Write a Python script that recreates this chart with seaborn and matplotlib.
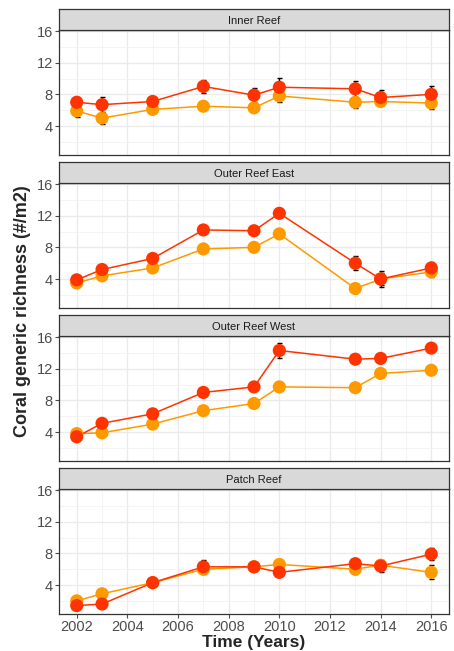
import numpy as np
import pandas as pd
import matplotlib
matplotlib.use("Agg")
import matplotlib.pyplot as plt
from matplotlib.ticker import MultipleLocator
import seaborn as sns

sns.set_theme(style="white")
plt.rcParams["font.family"] = ["Liberation Sans", "DejaVu Sans"]

years = [2002, 2003, 2005, 2007, 2009, 2010, 2013, 2014, 2016]
reefs = ["Inner Reef", "Outer Reef East", "Outer Reef West", "Patch Reef"]

# mean generic richness and standard error, two survey series per reef
inner_a = [7.0, 6.7, 7.1, 9.0, 7.9, 8.9, 8.7, 7.6, 8.0]
inner_a_se = [0.7, 1.0, 0.3, 0.8, 0.9, 1.2, 1.0, 1.0, 1.0]
inner_b = [5.9, 5.0, 6.1, 6.5, 6.3, 7.8, 7.0, 7.1, 6.9]
inner_b_se = [0.7, 0.8, 0.3, 0.5, 0.5, 0.8, 0.7, 0.4, 0.7]

east_a = [3.9, 5.2, 6.6, 10.2, 10.1, 12.3, 6.0, 4.0, 5.4]
east_a_se = [0.3, 0.3, 0.3, 0.3, 0.3, 0.3, 0.9, 1.0, 0.8]
east_b = [3.5, 4.4, 5.4, 7.8, 8.0, 9.7, 2.8, 4.0, 4.9]
east_b_se = [0.3, 0.3, 0.3, 0.3, 0.3, 0.3, 0.6, 0.8, 0.6]

west_a = [3.4, 5.1, 6.3, 9.0, 9.7, 14.3, 13.2, 13.3, 14.6]
west_a_se = [0.3, 0.3, 0.3, 0.3, 0.3, 1.0, 0.3, 0.3, 0.5]
west_b = [3.8, 3.9, 5.0, 6.7, 7.6, 9.7, 9.6, 11.4, 11.8]
west_b_se = [0.3, 0.3, 0.3, 0.3, 0.3, 0.3, 0.3, 0.3, 0.3]

patch_a = [1.4, 1.6, 4.3, 6.3, 6.3, 5.6, 6.7, 6.4, 7.9]
patch_a_se = [0.3, 0.3, 0.3, 0.8, 0.5, 0.4, 0.6, 0.7, 0.8]
patch_b = [2.0, 2.9, 4.3, 6.0, 6.3, 6.6, 6.0, 6.5, 5.6]
patch_b_se = [0.3, 0.4, 0.3, 0.6, 0.5, 0.6, 0.6, 0.5, 0.9]

series = {
    "Inner Reef": [(inner_b, inner_b_se), (inner_a, inner_a_se)],
    "Outer Reef East": [(east_b, east_b_se), (east_a, east_a_se)],
    "Outer Reef West": [(west_b, west_b_se), (west_a, west_a_se)],
    "Patch Reef": [(patch_b, patch_b_se), (patch_a, patch_a_se)],
}
groups = ["B", "A"]
palette = {"A": "#FF3300", "B": "#FF9900"}

rows = []
for reef in reefs:
    for g, (vals, ses) in zip(groups, series[reef]):
        for y, v, s in zip(years, vals, ses):
            rows.append({"reef": reef, "group": g, "year": y, "richness": v, "se": s})
df = pd.DataFrame(rows)

W, H = 454, 651
fig = plt.figure(figsize=(W / 100, H / 100), dpi=100)

left, right = 59, 449
plot_h, strip_h = 125, 21
plot_tops = [30, 183, 336, 489]
border = "#333333"
tick_col = "#4D4D4D"

for i, reef in enumerate(reefs):
    top = plot_tops[i]
    ax = fig.add_axes([left / W, 1 - (top + plot_h) / H, (right - left) / W, plot_h / H])
    sub = df[df.reef == reef]

    ax.xaxis.set_major_locator(MultipleLocator(2))
    ax.xaxis.set_minor_locator(MultipleLocator(1))
    ax.yaxis.set_major_locator(MultipleLocator(4))
    ax.yaxis.set_minor_locator(MultipleLocator(2))
    ax.grid(True, which="major", color="#EBEBEB", lw=1.0)
    ax.grid(True, which="minor", color="#F2F2F2", lw=0.6)
    ax.set_axisbelow(True)

    for g in groups:
        d = sub[sub.group == g]
        ax.errorbar(d.year, d.richness, yerr=d.se, fmt="none", ecolor="black",
                    elinewidth=1.0, capsize=1.8, capthick=1.0, zorder=2)
    for g in groups:
        d = sub[sub.group == g]
        sns.lineplot(data=d, x="year", y="richness", color=palette[g],
                     lw=1.1, ax=ax, zorder=3, legend=False)
        sns.scatterplot(data=d, x="year", y="richness", color=palette[g],
                        s=90, edgecolor="none", ax=ax, zorder=4, legend=False)

    ax.set_xlim(2001.3, 2016.7)
    ax.set_ylim(0.34, 16.13)
    ax.set_yticks([4, 8, 12, 16])
    ax.set_xticks(range(2002, 2017, 2))
    ax.set_xlabel("")
    ax.set_ylabel("")
    ax.tick_params(axis="y", which="major", length=3, width=0.8, color=tick_col,
                   labelcolor=tick_col, labelsize=10.5, pad=1.5, left=True)
    ax.tick_params(axis="x", which="major", length=3, width=0.8, color=tick_col,
                   labelcolor=tick_col, labelsize=10.5, pad=1.5, bottom=True)
    ax.tick_params(which="minor", length=0)
    if i < 3:
        ax.tick_params(axis="x", labelbottom=False, bottom=False)
    for sp in ax.spines.values():
        sp.set_color(border)
        sp.set_linewidth(0.9)

    sax = fig.add_axes([left / W, 1 - top / H, (right - left) / W, strip_h / H])
    sax.set_facecolor("#D9D9D9")
    sax.set_xticks([])
    sax.set_yticks([])
    for sp in sax.spines.values():
        sp.set_color(border)
        sp.set_linewidth(0.9)
    sax.text(0.5, 0.45, reef, ha="center", va="center", fontsize=8,
             color="#1A1A1A", transform=sax.transAxes)

fig.text(23 / W, 1 - 311 / H, "Coral generic richness (#/m2)", rotation=90,
         ha="center", va="center", fontsize=13, fontweight="bold")
fig.text((left + right) / 2 / W, 1 - 643 / H, "Time (Years)", ha="center",
         va="center", fontsize=12.5, fontweight="bold")

fig.savefig("out.png", dpi=100, facecolor="white")
